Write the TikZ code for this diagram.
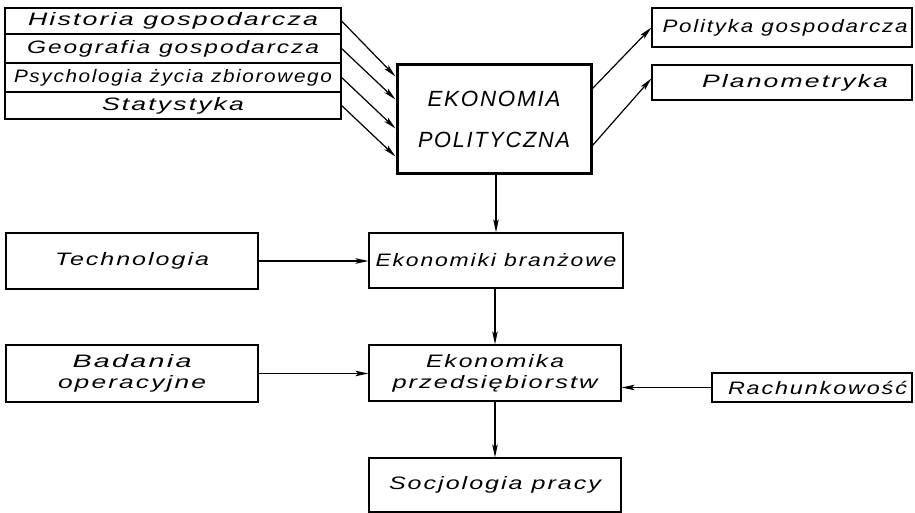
\documentclass[tikz,border=0pt]{standalone}
\usepackage{fontspec}
\setmainfont{Liberation Sans}
\usetikzlibrary{arrows.meta,calc}
\newsavebox\fitbox
\newcommand\fitw[2]{\sbox\fitbox{#2}\pgfmathsetmacro\fitsc{#1/\the\wd\fitbox}\scalebox{\fitsc}[1]{\usebox\fitbox}}
\tikzset{
  box/.style={draw, line width=1.2pt, inner sep=0pt, align=center,
    font=\fontsize{18}{21}\selectfont\itshape\addfontfeature{LetterSpace=8}},
  mainbox/.style={box, line width=3pt,
    font=\fontsize{22}{41}\selectfont\itshape\addfontfeature{LetterSpace=8}},
  conn/.style={line width=1.2pt, -{Stealth[length=13pt,width=5.5pt,inset=3pt]}}
}
\begin{document}
\begin{tikzpicture}[x=1pt,y=-1pt]
\useasboundingbox (0,0) rectangle (915,513);
% left stack
\node[box, minimum width=336pt, minimum height=26pt] (h1) at (173,21) {\fitw{290}{Historia gospodarcza}};
\node[box, minimum width=336pt, minimum height=29pt] (h2) at (173,48.5) {\fitw{292}{Geografia gospodarcza}};
\node[box, minimum width=336pt, minimum height=29pt] (h3) at (173,77.5) {\fitw{318}{Psychologia życia zbiorowego}};
\node[box, minimum width=336pt, minimum height=27pt] (h4) at (173,105.5) {\fitw{142}{Statystyka}};
% main box
\node[mainbox, minimum width=194pt, minimum height=109pt] (ek) at (494,119.5)
  {\fitw{133}{EKONOMIA}\\\fitw{152}{POLITYCZNA}};
% right top
\node[box, minimum width=260pt, minimum height=39pt] (pg) at (782,27.5) {\hspace{6pt}\fitw{245}{Polityka gospodarcza}};
\node[box, minimum width=260pt, minimum height=35pt] (pl) at (782,82.5) {\hspace{26pt}\fitw{186}{Planometryka}};
% middle rows
\node[box, minimum width=252pt, minimum height=56pt] (tech) at (132,261) {\fitw{154}{Technologia}};
\node[box, minimum width=254pt, minimum height=55pt] (eb) at (496,260.5) {\fitw{241}{Ekonomiki branżowe}};
\node[box, minimum width=252pt, minimum height=57pt] (bad) at (132,373.5)
  {\fitw{119}{Badania}\\\fitw{148}{operacyjne}};
\node[box, minimum width=252pt, minimum height=56pt] (ep) at (495,373)
  {\fitw{138}{Ekonomika}\\\fitw{205}{przedsiębiorstw}};
\node[box, minimum width=200pt, minimum height=29pt] (rach) at (812,387.5) {\hspace{11pt}\fitw{179}{Rachunkowość}};
\node[box, minimum width=252pt, minimum height=54pt] (soc) at (495,485) {\fitw{212}{Socjologia pracy}};
% connectors
\draw[conn] (h1.east) -- ([yshift=-13pt]ek.north west);
\draw[conn] (h2.east) -- ([yshift=-36pt]ek.north west);
\draw[conn] (h3.east) -- ([yshift=-65pt]ek.north west);
\draw[conn] (h4.east) -- ([yshift=-93pt]ek.north west);
\draw[conn] ([yshift=-25pt]ek.north east) -- (pg.west);
\draw[conn] ([yshift=-82pt]ek.north east) -- ([yshift=4pt]pl.west);
\draw[conn] (eb.north |- ek.south) -- (eb.north);
\draw[conn] (tech.east) -- (tech.east -| eb.west);
\draw[conn] (ep.north |- eb.south) -- (ep.north);
\draw[conn] (bad.east) -- (bad.east -| ep.west);
\draw[conn] (rach.west) -- (rach.west -| ep.east);
\draw[conn] (ep.south) -- (soc.north);
\end{tikzpicture}
\end{document}
